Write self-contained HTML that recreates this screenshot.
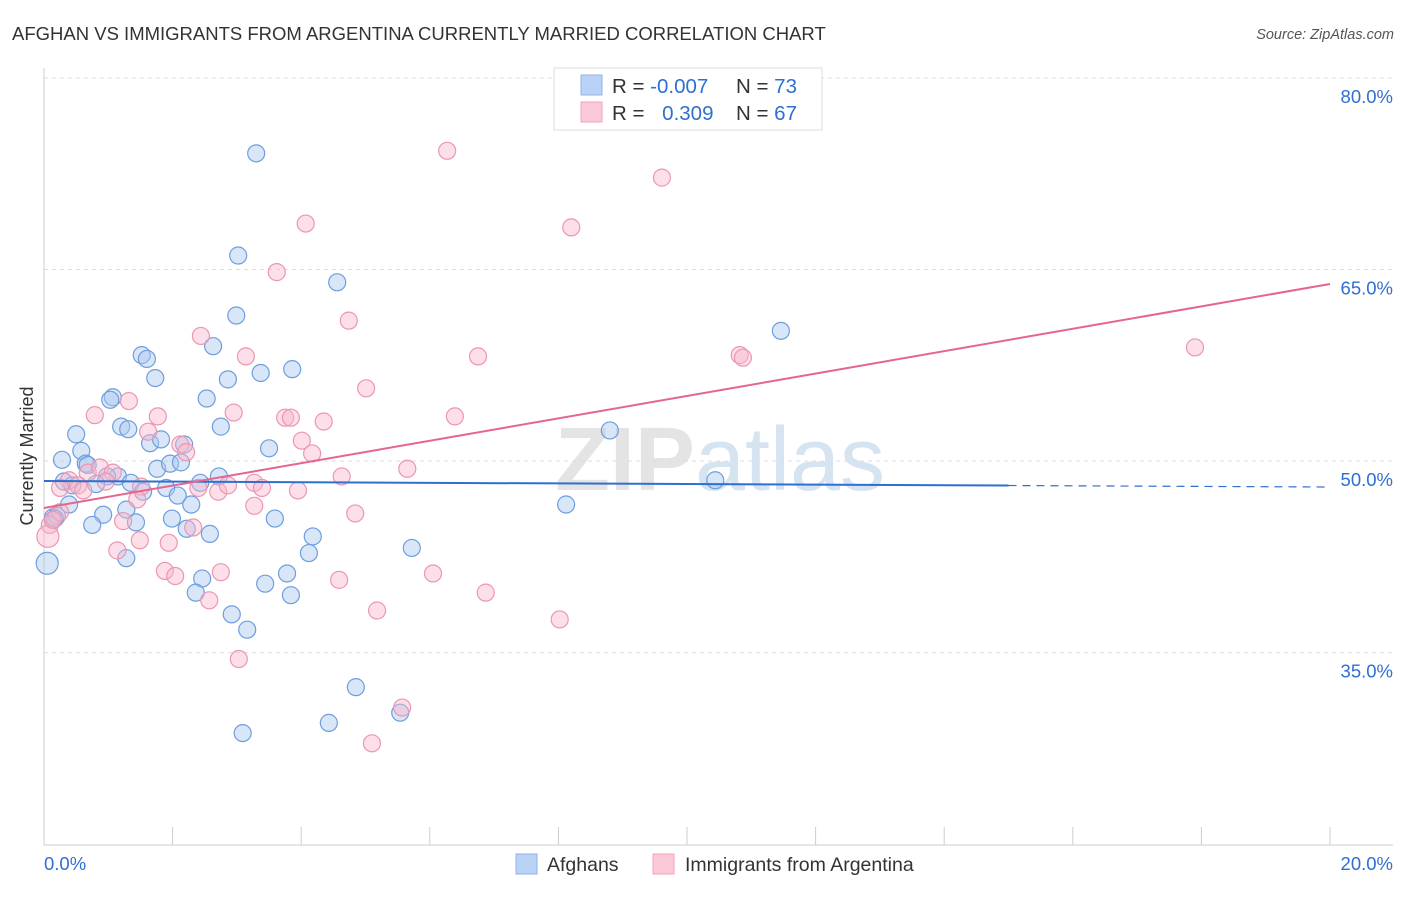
<!DOCTYPE html>
<html><head><meta charset="utf-8">
<style>
body{margin:0;background:#fff;font-family:"Liberation Sans",sans-serif;}
svg text{font-family:"Liberation Sans",sans-serif;}
</style></head>
<body>
<svg id="chart" width="1406" height="892" viewBox="0 0 1406 892" xmlns="http://www.w3.org/2000/svg">
<text x="12" y="40" font-size="18.5" fill="#333">AFGHAN VS IMMIGRANTS FROM ARGENTINA CURRENTLY MARRIED CORRELATION CHART</text>
<text x="1394" y="39" font-size="14.5" fill="#555" font-style="italic" text-anchor="end">Source: ZipAtlas.com</text>
<text x="720" y="490" font-size="90" fill="#e4e4e4" text-anchor="middle" font-weight="bold">ZIP<tspan fill="#d6e4f2" font-weight="normal">atlas</tspan></text>
<g id="grid"></g>
<g id="axes"></g>
<g id="points"></g>
<g id="trends"></g>
<text transform="translate(33,456) rotate(-90)" font-size="18" fill="#333" text-anchor="middle">Currently Married</text>
<g>
<rect x="554" y="68" width="268" height="62" fill="#fff" stroke="#ddd"/>
<rect x="581" y="75" width="21" height="20" fill="#b8d3f5" stroke="#8fb3e6"/>
<rect x="581" y="102" width="21" height="20" fill="#fcc9d8" stroke="#f0a3bc"/>
<text x="612" y="93" font-size="20.5" fill="#333">R = <tspan fill="#2f6fd0">-0.007</tspan></text>
<text x="736" y="93" font-size="20.5" fill="#333">N = <tspan fill="#2f6fd0">73</tspan></text>
<text x="612" y="120" font-size="20.5" fill="#333">R = <tspan fill="#2f6fd0" dx="12">0.309</tspan></text>
<text x="736" y="120" font-size="20.5" fill="#333">N = <tspan fill="#2f6fd0">67</tspan></text>
</g>
<g>
<rect x="516" y="854" width="21" height="20" fill="#b8d3f5" stroke="#8fb3e6"/>
<text x="547" y="871" font-size="19.5" fill="#333">Afghans</text>
<rect x="653" y="854" width="21" height="20" fill="#fcc9d8" stroke="#f0a3bc"/>
<text x="685" y="871" font-size="19.5" fill="#333">Immigrants from Argentina</text>
</g>
</svg>
<script>
const blueX=[3.30,3.02,4.56,2.99,11.46,2.63,1.52,1.60,1.73,2.86,3.37,3.86,1.07,1.03,2.53,1.20,1.31,2.75,8.80,0.50,1.65,1.82,2.18,3.50,0.58,0.28,0.65,0.68,1.76,1.96,2.13,1.15,0.98,1.35,2.72,2.43,0.31,0.44,0.81,1.54,1.90,2.08,2.29,10.44,8.12,0.39,0.14,0.20,0.92,1.28,1.43,1.99,3.59,0.75,2.22,2.58,4.18,5.72,4.12,1.28,0.05,2.46,3.78,2.36,3.44,3.84,2.92,3.16,4.85,4.43,5.54,3.09,0.17];
const blueY=[74.1,66.1,64.0,61.4,60.2,59.0,58.3,58.0,56.5,56.4,56.9,57.2,55.0,54.8,54.9,52.7,52.5,52.7,52.4,52.1,51.4,51.7,51.3,51.0,50.8,50.1,49.8,49.7,49.4,49.8,49.9,48.8,48.8,48.3,48.8,48.3,48.4,48.1,48.2,47.6,47.9,47.3,46.6,48.5,46.6,46.6,45.6,45.7,45.8,46.2,45.2,45.5,45.5,45.0,44.7,44.3,44.1,43.2,42.8,42.4,42.0,40.8,41.2,39.7,40.4,39.5,38.0,36.8,32.3,29.5,30.3,28.7,45.5];
const pinkX=[6.27,9.61,4.07,8.20,3.62,4.74,2.44,3.14,6.75,10.82,10.87,17.90,5.01,0.79,1.32,1.77,2.95,3.75,3.84,4.35,6.39,1.62,2.12,2.21,4.01,4.17,5.65,4.63,0.68,0.87,1.07,0.39,0.25,0.53,0.61,0.96,1.51,2.40,2.71,3.27,3.39,2.86,3.95,3.27,1.45,0.25,0.09,0.06,1.23,2.32,1.49,1.94,1.14,4.84,1.88,2.04,2.75,2.57,4.59,6.05,6.87,5.18,8.02,3.03,5.57,5.10,0.14];
const pinkY=[74.3,72.2,68.6,68.3,64.8,61.0,59.8,58.2,58.2,58.3,58.1,58.9,55.7,53.6,54.7,53.5,53.8,53.4,53.4,53.1,53.5,52.3,51.3,50.7,51.6,50.6,49.4,48.8,49.1,49.5,49.1,48.5,47.9,48.1,47.7,48.4,48.0,47.9,47.6,48.3,47.9,48.1,47.7,46.5,47.0,46.0,45.0,44.1,45.3,44.8,43.8,43.6,43.0,45.9,41.4,41.0,41.3,39.1,40.7,41.2,39.7,38.3,37.6,34.5,30.7,27.9,45.4];
const yTicks=[80,65,50,35];
const yTickLabels=["80.0%","65.0%","50.0%","35.0%"];
const xTicks=[0,2,4,6,8,10,12,14,16,18,20];
const blueTrend=[48.44,47.97];
const pinkTrend=[46.33,63.87];
const blueSolidEnd=15.0;

const NS="http://www.w3.org/2000/svg";
function sx(v){return 44+v*64.3;}
function sy(v){return 78+(80-v)*12.77;}
function mk(tag,attrs,parent){const e=document.createElementNS(NS,tag);for(const k in attrs)e.setAttribute(k,attrs[k]);parent.appendChild(e);return e;}
const grid=document.getElementById('grid'),axes=document.getElementById('axes'),pts=document.getElementById('points'),tr=document.getElementById('trends');
yTicks.forEach((t,i)=>{
 const l=mk('line',{x1:44,x2:1393,y1:sy(t),y2:sy(t),stroke:'#ddd','stroke-dasharray':'4,4'},grid);
 
 
 const tx=mk('text',{x:1393,y:sy(t)+25,'font-size':18.5,fill:'#2f6fd0','text-anchor':'end'},axes);
 tx.textContent=yTickLabels[i];
 
 
});
const ax=mk('line',{x1:44,x2:1393,y1:845,y2:845,stroke:'#ccc'},axes);


const ay=mk('line',{x1:44,x2:44,y1:68,y2:845,stroke:'#ccc'},axes);


xTicks.forEach(t=>{
 const l=mk('line',{x1:sx(t),x2:sx(t),y1:827,y2:845,stroke:'#ccc'},axes);
 
 
});
const xl0=mk('text',{x:44,y:870,'font-size':18.5,fill:'#2f6fd0'},axes);xl0.textContent=xTicks[0].toFixed(1)+'%';


const xl1=mk('text',{x:1393,y:870,'font-size':18.5,fill:'#2f6fd0','text-anchor':'end'},axes);xl1.textContent=xTicks[xTicks.length-1].toFixed(1)+'%';


function dots(X,Y,fill,stroke,name){
 X.forEach((x,i)=>{
  const r=(x<0.065)?11:8.5;
  const c=mk('circle',{cx:sx(x),cy:sy(Y[i]),r:r,fill:fill,'fill-opacity':0.45,stroke:stroke,'stroke-width':1.2},pts);
  
  
 });
}
dots(blueX,blueY,'#a9c8f0','#6e9ede','afghan-point');
dots(pinkX,pinkY,'#f8b9cc','#ec96b2','argentina-point');
function lineAt(tr0,tr1,x){return tr0+(tr1-tr0)*x/20;}
const b1=mk('line',{x1:sx(0),y1:sy(blueTrend[0]),x2:sx(blueSolidEnd),y2:sy(lineAt(blueTrend[0],blueTrend[1],blueSolidEnd)),stroke:'#2f6fd0','stroke-width':2},tr);


const b2=mk('line',{x1:sx(blueSolidEnd),y1:sy(lineAt(blueTrend[0],blueTrend[1],blueSolidEnd)),x2:sx(20),y2:sy(blueTrend[1]),stroke:'#2f6fd0','stroke-width':1.2,'stroke-dasharray':'8,6'},tr);


const p1=mk('line',{x1:sx(0),y1:sy(pinkTrend[0]),x2:sx(20),y2:sy(pinkTrend[1]),stroke:'#e5658f','stroke-width':2},tr);


</script>
</body></html>
